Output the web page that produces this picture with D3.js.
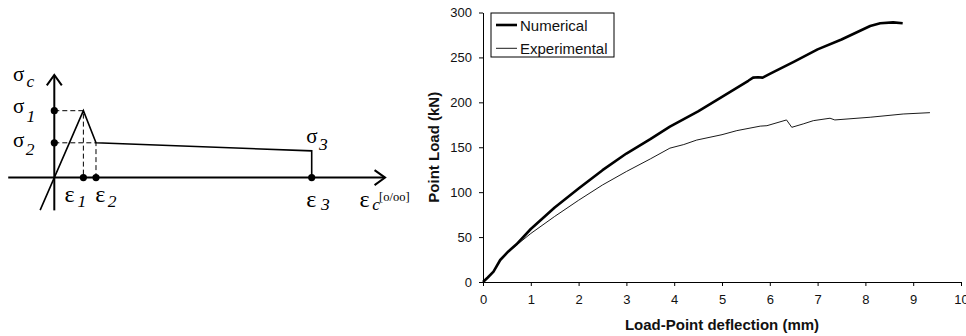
<!DOCTYPE html>
<html>
<head>
<meta charset="utf-8">
<script src="https://cdn.jsdelivr.net/npm/d3@7"></script>
<style>
  html, body { margin: 0; padding: 0; background: #fff; }
  svg { display: block; }
</style>
</head>
<body>
<svg id="chart" width="966" height="336"></svg>
<script>
// ---------- Data: load-deflection chart ----------
const numX = [0, 0.1, 0.22, 0.36, 0.53, 0.7, 1.0, 1.5, 2.0, 2.5, 3.0, 3.5, 3.91, 4.5, 5.0, 5.55, 5.65, 5.75, 5.85, 6.0, 6.5, 7.0, 7.5, 8.1, 8.31, 8.58, 8.78];
const numY = [0, 5, 11.5, 24.5, 34, 42, 59, 83, 104, 124.5, 143, 159, 173, 190, 206, 224, 227.5, 228, 227.5, 231.6, 245, 259, 270, 285, 288, 289, 288];
const expX = [0, 0.1, 0.22, 0.36, 0.53, 0.7, 1.0, 1.5, 2.0, 2.5, 3.0, 3.5, 3.91, 4.2, 4.47, 5.0, 5.31, 5.8, 5.94, 6.35, 6.46, 6.7, 6.91, 7.26, 7.36, 8.1, 8.79, 9.35];
const expY = [0, 5, 11.5, 24.5, 33.5, 41, 54, 73, 91, 108, 123, 137, 149, 153, 158, 164, 168.5, 173.5, 174, 180.4, 172.2, 176, 179.6, 182.3, 180.4, 183.4, 187, 188.5];
const xTicks = [0, 1, 2, 3, 4, 5, 6, 7, 8, 9, 10];
const yTicks = [0, 50, 100, 150, 200, 250, 300];
const seriesNames = ["Numerical", "Experimental"];

// ---------- Data: schematic stress-strain diagram ----------
const schemStrain = [-0.55, 0, 1.13, 1.62, 10, 10];   // curve vertices (strain)
const schemStress = [-0.487, 0, 1, 0.52, 0.40, 0];    // curve vertices (stress)
const strainMarks = [1.13, 1.62, 10];                 // ε1, ε2, ε3
const stressMarks = [1, 0.52];                        // σ1, σ2

const svg = d3.select("#chart");

// ================= Schematic (left) =================
const sx = d3.scaleLinear().domain([0, 10]).range([54.3, 311.7]);
const sy = d3.scaleLinear().domain([0, 1]).range([177.6, 110.7]);
const gS = svg.append("g");
const serif = "'Liberation Serif','Times New Roman',serif";

// axes
gS.append("line").attr("x1", sx(-1.79)).attr("x2", sx(12.85)).attr("y1", sy(0)).attr("y2", sy(0))
  .attr("stroke", "#000").attr("stroke-width", 2);
gS.append("line").attr("x1", sx(0)).attr("x2", sx(0)).attr("y1", sy(-0.49)).attr("y2", sy(1.535))
  .attr("stroke", "#000").attr("stroke-width", 2);
// arrowheads
gS.append("path").attr("d", `M${sx(12.85)-10.5},${sy(0)-7.5}L${sx(12.85)},${sy(0)}L${sx(12.85)-10.5},${sy(0)+7.5}`)
  .attr("fill", "none").attr("stroke", "#000").attr("stroke-width", 2);
gS.append("path").attr("d", `M${sx(0)-7.5},${sy(1.535)+10.5}L${sx(0)},${sy(1.535)}L${sx(0)+7.5},${sy(1.535)+10.5}`)
  .attr("fill", "none").attr("stroke", "#000").attr("stroke-width", 2);

// dashed guide lines
const dash = gS.append("g").attr("stroke", "#000").attr("stroke-width", 1).attr("stroke-dasharray", "5,3").attr("fill", "none");
stressMarks.forEach((s, i) => {
  const e = strainMarks[i];
  dash.append("path").attr("d", `M${sx(0)},${sy(s)}L${sx(e)},${sy(s)}L${sx(e)},${sy(0)}`);
});

// curve
const schemPts = schemStrain.map((e, i) => [e, schemStress[i]]);
gS.append("path").datum(schemPts)
  .attr("d", d3.line().x(d => sx(d[0])).y(d => sy(d[1])))
  .attr("fill", "none").attr("stroke", "#000").attr("stroke-width", 1.6);

// dots
const dots = [...stressMarks.map(s => [0, s]), ...strainMarks.map(e => [e, 0])];
gS.selectAll("circle.dot").data(dots).join("circle")
  .attr("cx", d => sx(d[0])).attr("cy", d => sy(d[1])).attr("r", 3.6).attr("fill", "#000");

// labels
function greek(x, y, main, size, sub, subX, subY) {
  gS.append("text").attr("x", x).attr("y", y)
    .attr("font-family", serif).attr("font-size", size).attr("fill", "#000").text(main);
  gS.append("text").attr("x", subX).attr("y", subY)
    .attr("font-family", serif).attr("font-size", 17.5).attr("font-style", "italic")
    .attr("fill", "#000").text(sub);
}
greek(13, 80.7, "σ", 21, "c", 26.5, 86.7);
greek(13, 113.3, "σ", 21, "1", 26.5, 121.7);
greek(13, 147.3, "σ", 21, "2", 25.8, 155);
greek(306.3, 143.3, "σ", 21, "3", 319, 150);
greek(64.5, 201.7, "ε", 24, "1", 77.5, 206.7);
greek(95.3, 201.7, "ε", 24, "2", 107.8, 206.7);
greek(306.3, 206.7, "ε", 24, "3", 321, 210);
greek(359.6, 206.7, "ε", 24, "c", 372.3, 210);
gS.append("text").attr("x", 379).attr("y", 200.8).attr("font-family", serif)
  .attr("font-size", 12.5).attr("fill", "#000").text("[o/oo]");

// ================= Load-deflection chart (right) =================
const x = d3.scaleLinear().domain([0, 10]).range([483, 961]);
const y = d3.scaleLinear().domain([0, 300]).range([282, 12.5]);
const sans = "'Liberation Sans', Arial, sans-serif";
const gC = svg.append("g");

const xAxis = gC.append("g").attr("transform", `translate(0,${y(0)})`)
  .call(d3.axisBottom(x).tickValues(xTicks).tickSize(4).tickPadding(9).tickSizeOuter(0).tickFormat(d3.format("d")));
const yAxis = gC.append("g").attr("transform", `translate(${x(0)},0)`)
  .call(d3.axisLeft(y).tickValues(yTicks).tickSize(4).tickPadding(7).tickSizeOuter(0).tickFormat(d3.format("d")));
[xAxis, yAxis].forEach(a => {
  a.select(".domain").attr("stroke", "#000").attr("stroke-width", 1);
  a.selectAll(".tick line").attr("stroke", "#000");
  a.selectAll(".tick text").attr("font-family", sans).attr("font-size", 13).attr("fill", "#111");
});

gC.append("text").attr("x", (x(0) + x(10)) / 2).attr("y", 330)
  .attr("text-anchor", "middle").attr("font-family", sans).attr("font-weight", "bold")
  .attr("font-size", 15).attr("fill", "#111").text("Load-Point deflection (mm)");
gC.append("text").attr("transform", `translate(439,${(y(0) + y(300)) / 2}) rotate(-90)`)
  .attr("text-anchor", "middle").attr("font-family", sans).attr("font-weight", "bold")
  .attr("font-size", 15).attr("fill", "#111").text("Point Load (kN)");

const line = d3.line().x(d => x(d[0])).y(d => y(d[1]));
const numData = numX.map((v, i) => [v, numY[i]]);
const expData = expX.map((v, i) => [v, expY[i]]);
gC.append("path").datum(expData).attr("d", line).attr("fill", "none")
  .attr("stroke", "#000").attr("stroke-width", 0.9).attr("stroke-linejoin", "round");
gC.append("path").datum(numData).attr("d", line).attr("fill", "none")
  .attr("stroke", "#000").attr("stroke-width", 2.6).attr("stroke-linejoin", "round");

// legend
const lg = gC.append("g");
lg.append("rect").attr("x", 491).attr("y", 13).attr("width", 123).attr("height", 44)
  .attr("fill", "#fff").attr("stroke", "#000").attr("stroke-width", 1);
const legW = [2.6, 0.9];
seriesNames.forEach((name, i) => {
  const cy = 25 + i * 23.3;
  lg.append("line").attr("x1", 496).attr("x2", 517).attr("y1", cy).attr("y2", cy)
    .attr("stroke", "#000").attr("stroke-width", legW[i]);
  lg.append("text").attr("x", 520).attr("y", cy + 5.5).attr("font-family", sans)
    .attr("font-size", 15).attr("fill", "#111").text(name);
});
</script>
</body>
</html>
